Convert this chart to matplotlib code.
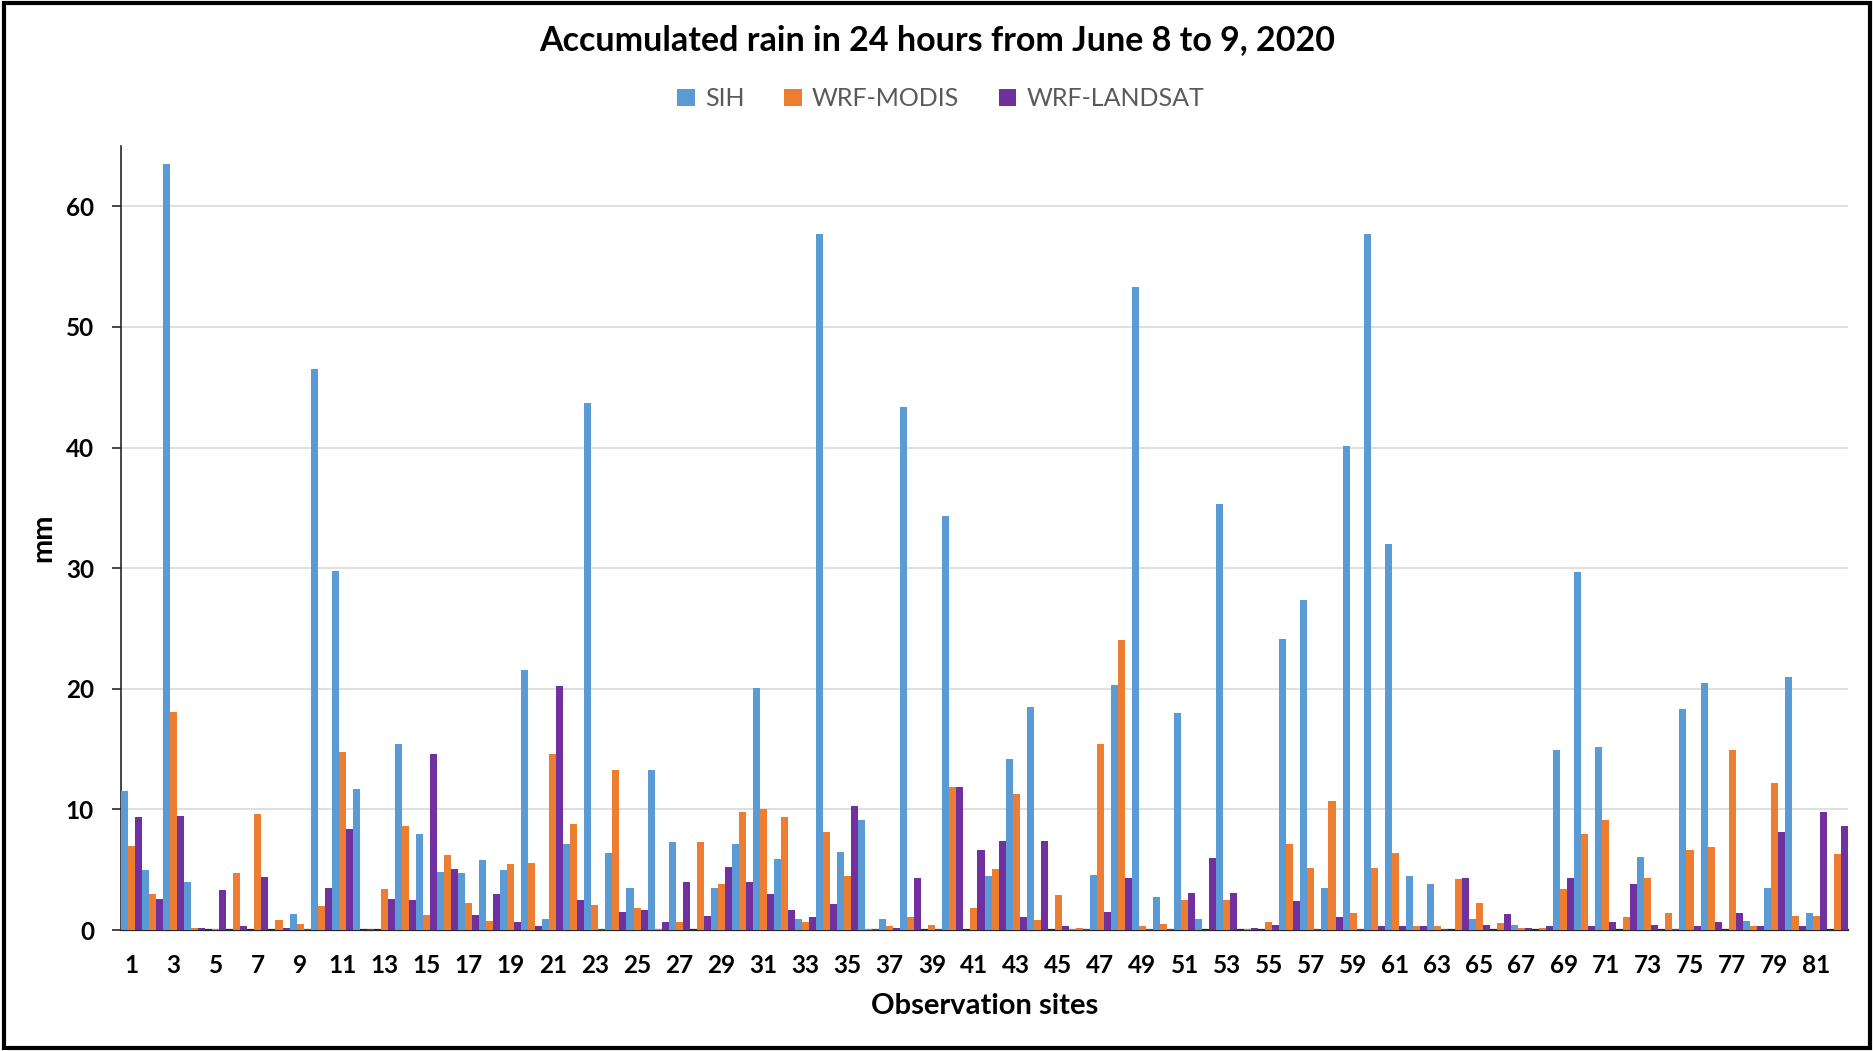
#!/usr/bin/env python3
"""
Accumulated 24 h rain per observation site (June 8 to 9, 2020):
observed (SIH) against two WRF runs (MODIS and LANDSAT land use).
"""

import matplotlib
matplotlib.use("Agg")
import matplotlib.pyplot as plt
import numpy as np
from matplotlib.patches import Rectangle

sites = list(range(1, 83))

sih = [11.5, 5.0, 63.5, 4.0, 0.0, 0.0, 0.0, 0.0, 1.3, 46.5,
       29.8, 11.7, 0.0, 15.4, 8.0, 4.85, 4.75, 5.8, 4.95, 21.6,
       0.95, 7.1, 43.7, 6.4, 3.5, 13.3, 7.3, 0.0, 3.5, 7.1,
       20.05, 5.9, 0.95, 57.7, 6.5, 9.15, 0.95, 43.4, 0.0, 34.3,
       0.0, 4.5, 14.2, 18.5, 0.0, 0.1, 4.55, 20.3, 53.3, 2.7,
       18.0, 0.95, 35.3, 0.0, 0.0, 24.1, 27.4, 3.5, 40.1, 57.7,
       32.0, 4.5, 3.8, 0.0, 0.95, 0.0, 0.45, 0.0, 14.95, 29.7,
       15.15, 0.0, 6.05, 0.0, 18.3, 20.5, 0.0, 0.75, 3.5, 21.0,
       1.45, 0.0]

wrf_modis = [7.0, 3.0, 18.1, 0.15, 0.05, 4.75, 9.6, 0.8, 0.5, 2.0,
             14.8, 0.0, 3.4, 8.6, 1.25, 6.2, 2.2, 0.75, 5.45, 5.55,
             14.6, 8.75, 2.05, 13.3, 1.85, 0.05, 0.65, 7.3, 3.8, 9.8,
             10.05, 9.35, 0.65, 8.1, 4.5, 0.1, 0.35, 1.05, 0.45, 11.85,
             1.85, 5.05, 11.3, 0.85, 2.9, 0.2, 15.4, 24.05, 0.35, 0.5,
             2.5, 0.0, 2.5, 0.05, 0.65, 7.1, 5.15, 10.7, 1.45, 5.15,
             6.4, 0.35, 0.35, 4.2, 2.2, 0.55, 0.15, 0.15, 3.4, 7.95,
             9.15, 1.05, 4.3, 1.45, 6.65, 6.9, 14.95, 0.3, 12.2, 1.15,
             1.15, 6.3]

wrf_landsat = [9.35, 2.6, 9.45, 0.15, 3.3, 0.3, 4.4, 0.15, 0.05, 3.5,
               8.35, 0.05, 2.6, 2.5, 14.6, 5.05, 1.25, 3.0, 0.65, 0.3,
               20.25, 2.5, 0.05, 1.5, 1.65, 0.65, 4.0, 1.15, 5.25, 4.0,
               3.0, 1.65, 1.05, 2.15, 10.3, 0.05, 0.2, 4.3, 0.05, 11.85,
               6.65, 7.4, 1.05, 7.4, 0.35, 0.1, 1.5, 4.35, 0.05, 0.05,
               3.1, 5.95, 3.1, 0.15, 0.45, 2.4, 0.05, 1.05, 0.05, 0.3,
               0.35, 0.3, 0.05, 4.35, 0.45, 1.35, 0.15, 0.3, 4.35, 0.35,
               0.65, 3.85, 0.45, 0.05, 0.3, 0.65, 1.45, 0.3, 8.1, 0.35,
               9.75, 8.65]

series = [("SIH", sih, "#5b9bd5"),
          ("WRF-MODIS", wrf_modis, "#ed7d31"),
          ("WRF-LANDSAT", wrf_landsat, "#7030a0")]

y_ticks = [0, 10, 20, 30, 40, 50, 60]
x_labels = [str(s) for s in sites if s % 2 == 1]

FONT = ["Lato", "DejaVu Sans"]


def main():
    plt.rcParams["font.family"] = FONT

    fig = plt.figure(figsize=(18.74, 10.51), dpi=100)
    ax = fig.add_axes([0.0646, 0.1151, 0.9215, 0.7459])

    xs = np.array(sites)
    w = 1 / 3
    for i, (name, vals, col) in enumerate(series):
        ax.bar(xs + (i - 1) * w, vals, width=w, color=col, label=name,
               linewidth=0, zorder=3)

    ax.set_xlim(0.5, 82.5)
    ax.set_ylim(0, 65)
    ax.set_yticks(y_ticks)
    ax.set_xticks([s for s in sites if s % 2 == 1])
    ax.set_xticklabels(x_labels)

    ax.grid(axis="y", color="#d9d9d9", linewidth=1.2, zorder=0)
    for sp in ("top", "right"):
        ax.spines[sp].set_visible(False)
    ax.spines["left"].set_color("#262626")
    ax.spines["bottom"].set_color("#262626")
    ax.spines["left"].set_linewidth(1.2)
    ax.spines["bottom"].set_linewidth(1.6)

    ax.tick_params(axis="y", length=6.5, width=1.2, color="#262626", pad=13,
                   labelsize=17.5)
    ax.tick_params(axis="x", length=0, pad=17, labelsize=17.5)
    for lbl in ax.get_xticklabels() + ax.get_yticklabels():
        lbl.set_fontweight("bold")

    ax.set_ylabel("mm", fontsize=21, fontweight="bold", labelpad=7)
    ax.set_xlabel("Observation sites", fontsize=21, fontweight="bold",
                  labelpad=12)

    fig.text(0.5, 0.962, "Accumulated rain in 24 hours from June 8 to 9, 2020",
             ha="center", va="center", fontsize=24.5, fontweight="bold")
    fig.legend(loc="center", bbox_to_anchor=(0.502, 0.906), ncol=3,
               frameon=False, fontsize=18, handlelength=0.7, handleheight=0.7,
               handletextpad=0.4, columnspacing=1.6, labelcolor="#595959")

    fig.patches.append(Rectangle((0.002, 0.003), 0.996, 0.994,
                                 transform=fig.transFigure, fill=False,
                                 edgecolor="black", linewidth=3))

    fig.savefig("out.png", dpi=100)


if __name__ == "__main__":
    main()
